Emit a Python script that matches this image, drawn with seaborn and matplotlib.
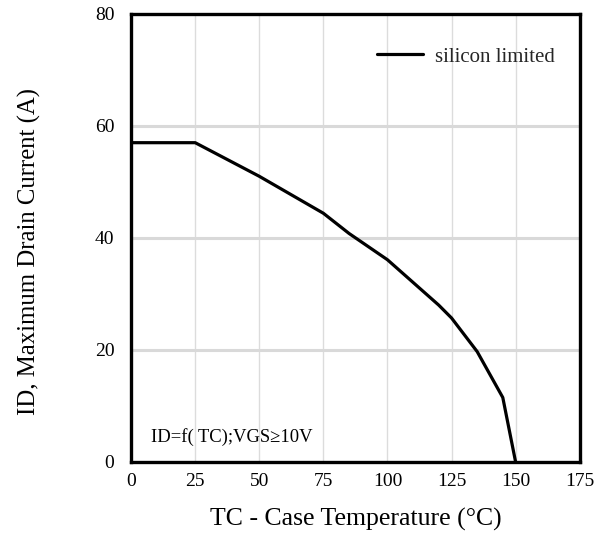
import matplotlib
matplotlib.use("Agg")
import matplotlib.pyplot as plt
import seaborn as sns
import pandas as pd

# Data
tc = [0, 25, 50, 75, 85, 100, 120, 125, 135, 145, 150]
id_a = [57, 57, 51, 44.4, 40.8, 36.1, 28.0, 25.7, 19.7, 11.5, 0]
x_ticks = [0, 25, 50, 75, 100, 125, 150, 175]
y_ticks = [0, 20, 40, 60, 80]

sns.set_theme(style="white")
plt.rcParams['font.family'] = ['Liberation Serif', 'DejaVu Serif']

df = pd.DataFrame({"Tc": tc, "ID": id_a})

fig = plt.figure(figsize=(6.07, 5.34), dpi=100)
ax = fig.add_axes([0.216, 0.135, 0.739, 0.839])

for v in x_ticks[1:-1]:
    ax.axvline(v, color="#dcdcdc", lw=1.0, zorder=0)
for v in y_ticks[1:-1]:
    ax.axhline(v, color="#d9d9d9", lw=2.2, zorder=0)

sns.lineplot(data=df, x="Tc", y="ID", ax=ax, color="black", lw=2.3,
             label="silicon limited", sort=False, legend=False)

ax.set_xlim(0, 175)
ax.set_ylim(0, 80)
ax.set_xticks(x_ticks)
ax.set_yticks(y_ticks)
ax.tick_params(axis="both", length=0, labelsize=14, colors="black")
ax.tick_params(axis="x", pad=8)
ax.tick_params(axis="y", pad=12)
for s in ax.spines.values():
    s.set_color("black")
    s.set_linewidth(2.4)
    s.set_visible(True)

ax.set_xlabel("TC - Case Temperature (°C)", fontsize=18.5, color="black")
ax.xaxis.set_label_coords(0.5, -0.103)
ax.set_ylabel("ID, Maximum Drain Current (A)", fontsize=17.8, color="black")
ax.yaxis.set_label_coords(-0.201, 0.47)

ax.text(0.045, 0.056, "ID=f( TC);VGS≥10V", transform=ax.transAxes,
        fontsize=13.4, ha="left", va="center", color="black",
        family=['Liberation Serif', 'DejaVu Serif'])

leg = ax.legend(loc="center left", bbox_to_anchor=(0.548, 0.904), frameon=False,
                fontsize=15, handlelength=2.2, handletextpad=0.58,
                borderpad=0, borderaxespad=0)

fig.savefig("out.png", dpi=100)
